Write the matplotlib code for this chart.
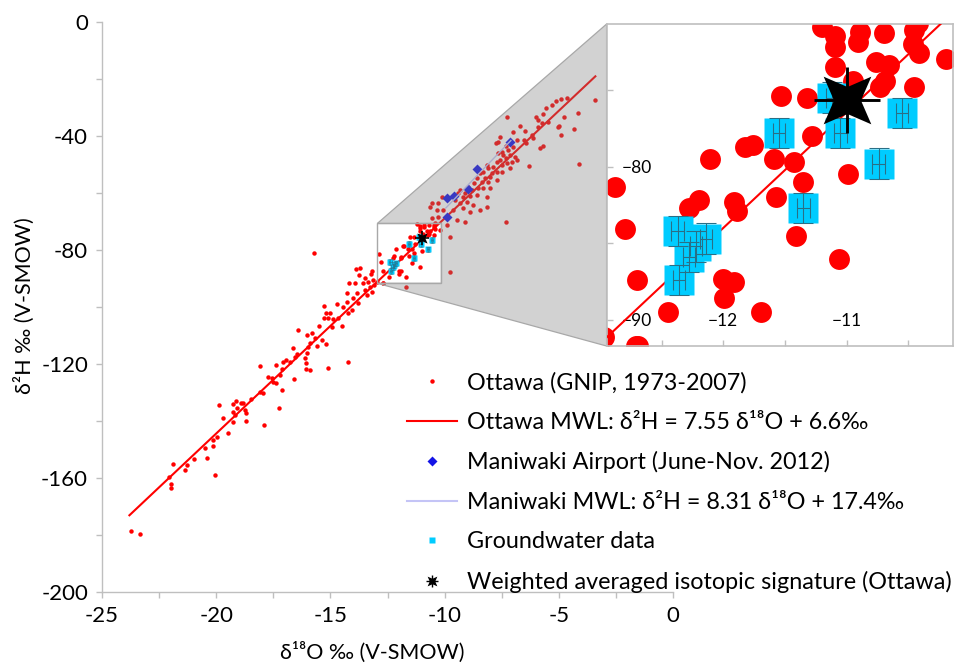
import matplotlib

matplotlib.use("Agg")
import matplotlib.pyplot as plt
import numpy as np
from matplotlib.legend_handler import HandlerTuple
from matplotlib.lines import Line2D
from matplotlib.patches import Polygon, Rectangle
from matplotlib.path import Path

plt.rcParams["font.family"] = ["Lato", "DejaVu Sans"]

# Ottawa GNIP monthly precipitation, 1973-2007 (d18O, d2H in permil V-SMOW)
OTTAWA = [
    (-23.74, -178.5), (-23.34, -179.8), (-21.97, -163.5), (-22.00, -162.2),
    (-22.05, -159.8), (-21.88, -155.0), (-21.37, -157.3), (-21.27, -155.6),
    (-20.96, -153.4), (-20.39, -152.9), (-20.04, -158.9),
    (-20.49, -149.6), (-20.15, -146.7), (-20.13, -148.7), (-19.95, -145.5),
    (-19.47, -144.3), (-19.72, -139.1), (-19.28, -140.2), (-19.86, -134.4),
    (-19.28, -134.0), (-19.13, -132.9), (-19.25, -136.7), (-19.10, -135.6),
    (-19.18, -137.9), (-18.93, -133.8), (-18.81, -133.6), (-18.74, -136.1),
    (-18.70, -137.3), (-18.71, -140.0), (-18.49, -132.4), (-18.08, -129.7),
    (-17.94, -130.3), (-17.91, -141.4), (-17.25, -135.3), (-17.13, -129.1),
    (-17.38, -126.8), (-17.57, -125.0), (-17.50, -126.2), (-17.72, -124.5),
    (-18.08, -120.7), (-17.38, -120.4), (-17.13, -121.8), (-17.21, -123.9),
    (-17.06, -119.2), (-16.94, -118.6), (-16.77, -119.2), (-16.59, -125.4),
    (-16.65, -114.5), (-16.55, -117.4), (-16.48, -116.5), (-16.40, -108.1),
    (-16.11, -118.0), (-16.07, -119.8), (-16.07, -121.9), (-15.89, -122.1),
    (-16.04, -116.3), (-15.97, -113.9), (-15.89, -112.7), (-15.82, -109.2),
    (-16.01, -109.8), (-15.67, -111.0), (-15.60, -113.7), (-15.38, -111.6),
    (-15.19, -113.0), (-15.09, -121.5), (-14.22, -119.4), (-15.48, -106.7),
    (-15.28, -99.6), (-15.19, -102.2), (-15.28, -104.0), (-15.09, -104.0),
    (-14.94, -106.9), (-14.87, -104.3), (-14.72, -98.9), (-14.51, -106.7),
    (-14.65, -104.0), (-15.02, -102.2), (-14.44, -99.9), (-14.29, -98.1),
    (-14.22, -102.2), (-14.07, -101.1), (-14.29, -95.2), (-14.17, -91.5),
    (-13.92, -91.7), (-13.85, -95.2), (-14.00, -97.0), (-13.78, -98.7),
    (-15.72, -81.2), (-13.88, -86.8), (-13.70, -86.4), (-13.19, -87.3),
    (-13.24, -88.4), (-13.73, -88.8), (-13.49, -89.9), (-13.56, -91.7),
    (-13.34, -91.1), (-13.15, -90.5), (-12.97, -91.1), (-13.09, -92.3),
    (-13.27, -93.1), (-13.49, -94.0), (-13.19, -94.6), (-13.41, -95.8),
    (-12.71, -91.7), (-11.69, -93.1), (-9.76, -87.6),
    (-7.28, -33.5), (-6.70, -36.5), (-6.48, -38.1), (-6.99, -38.5),
    (-7.58, -40.2), (-7.65, -42.0), (-7.75, -42.3), (-6.85, -41.4),
    (-6.52, -41.4), (-6.44, -42.6), (-7.31, -43.5), (-6.99, -43.7),
    (-7.21, -44.9), (-7.50, -45.5), (-7.65, -46.1), (-7.43, -46.7),
    (-7.14, -46.7), (-7.31, -47.8), (-6.92, -47.3), (-7.58, -48.4),
    (-7.72, -49.0), (-7.06, -49.0), (-6.85, -48.4), (-7.28, -49.6),
    (-7.50, -50.2), (-7.87, -50.8), (-8.09, -51.4), (-8.16, -50.2),
    (-8.30, -52.5), (-8.45, -53.1), (-7.94, -53.1), (-7.72, -52.5),
    (-7.50, -52.5), (-7.14, -51.4), (-8.01, -54.3), (-8.23, -54.9),
    (-8.38, -56.0), (-8.60, -54.9), (-8.09, -56.0), (-7.72, -55.4),
    (-8.71, -56.6), (-8.52, -58.4), (-8.81, -59.0), (-8.30, -58.4),
    (-8.01, -58.4), (-8.60, -60.7), (-8.89, -61.1), (-9.18, -61.5),
    (-9.03, -63.0), (-9.33, -63.6), (-9.18, -65.4), (-8.45, -66.0),
    (-8.74, -64.2), (-8.16, -61.3), (-9.40, -60.1), (-10.13, -61.3),
    (-10.27, -63.6), (-10.57, -63.6), (-10.64, -64.8), (-10.35, -66.0),
    (-10.06, -66.0), (-9.62, -66.0), (-10.27, -68.3), (-10.57, -68.9),
    (-10.42, -70.6), (-9.91, -71.2), (-9.47, -69.5), (-9.11, -70.1),
    (-9.76, -75.3), (-7.31, -70.1), (-8.89, -66.6), (-8.16, -64.8),
    (-9.11, -60.1), (-8.96, -57.8), (-9.33, -59.0), (-9.54, -62.5),
    (-5.12, -27.6), (-4.92, -27.1), (-4.63, -26.5), (-3.42, -27.4),
    (-5.31, -29.1), (-4.14, -31.8), (-5.56, -30.3), (-5.68, -32.3),
    (-6.00, -33.2), (-5.90, -34.4), (-5.75, -35.3), (-5.46, -35.0),
    (-5.90, -36.7), (-4.77, -33.2), (-4.98, -36.5), (-5.02, -37.0),
    (-4.92, -39.6), (-4.32, -37.7), (-5.82, -44.3), (-5.68, -43.5),
    (-6.29, -50.5), (-4.10, -49.9), (-6.19, -39.6), (-6.11, -40.8),
    (-11.20, -70.9), (-11.09, -71.5), (-11.09, -72.2), (-10.89, -71.2),
    (-10.91, -71.9), (-10.70, -71.3), (-10.45, -71.1), (-10.46, -72.0),
    (-10.41, -72.6), (-10.19, -73.0), (-11.09, -73.5), (-10.76, -73.2),
    (-10.66, -73.4), (-10.69, -74.4), (-10.73, -74.8), (-10.45, -74.8),
    (-10.95, -74.4), (-11.32, -75.5), (-11.53, -75.4), (-11.82, -78.7),
    (-11.76, -78.6), (-12.11, -79.5), (-11.59, -79.5), (-11.43, -79.7),
    (-11.28, -78.0), (-11.35, -81.0), (-11.57, -82.0), (-11.91, -82.3),
    (-11.89, -82.9), (-12.20, -82.2), (-12.28, -82.7), (-12.88, -81.3),
    (-12.80, -84.1), (-11.41, -84.5), (-11.06, -86.0), (-10.99, -80.5),
    (-12.70, -87.4), (-12.00, -87.3), (-11.91, -87.5), (-11.99, -88.6),
    (-12.45, -89.5), (-11.69, -89.5), (-12.69, -91.7),
]

# Maniwaki Airport precipitation, June-Nov. 2012
MANIWAKI_D18O = [-7.14, -8.59, -8.96, -9.59, -9.91, -9.91]
MANIWAKI_D2H = [-42.0, -51.7, -58.7, -61.1, -61.6, -68.3]

# groundwater samples with analytical uncertainty
GW_D18O = [-12.37, -12.14, -12.22, -12.28, -12.36, -11.55, -11.35, -11.05, -11.12, -10.74, -10.55]
GW_D2H = [-84.2, -84.7, -85.2, -85.9, -87.4, -77.8, -82.7, -77.8, -75.5, -79.8, -76.5]
GW_D18O_ERR = 0.05
GW_D2H_ERR = 1.0

# weighted mean of Ottawa precipitation
WEIGHTED_D18O = [-11.0]
WEIGHTED_D2H = [-75.65]

# meteoric water lines: slope, intercept, d18O range drawn
OTTAWA_MWL = (7.55, 6.6, (-23.8, -3.4))
MANIWAKI_MWL = (8.31, 17.4, (-9.95, -7.1))

ZOOM_X = (-12.946, -10.14)
ZOOM_Y = (-91.7, -70.7)

RED = "#FF0000"
BLUE = "#1414E6"
LAVENDER = "#C4C4F6"
CYAN = "#00CCFF"
ERR_COLOR = "#2A6F86"
AXIS_GRAY = "#BFBFBF"
FS_TICK = 16
FS_LABEL = 15.5
FS_LEGEND = 16.8
FS_INSET = 12.5


def star_marker(inner=0.4):
    verts = []
    for k in range(8):
        ang = np.deg2rad(45 + 45 * k)
        r = 1.0 if k % 2 == 0 else inner
        verts.append((r * np.cos(ang), r * np.sin(ang)))
    verts.append(verts[0])
    codes = [Path.MOVETO] + [Path.LINETO] * 7 + [Path.CLOSEPOLY]
    return Path(verts, codes)


STAR = star_marker()


def mwl(params):
    slope, icpt, (x0, x1) = params
    xs = np.array([x0, x1])
    return xs, slope * xs + icpt


def draw_series(ax, scale):
    ox = [p[0] for p in OTTAWA]
    oy = [p[1] for p in OTTAWA]
    ax.plot(ox, oy, "o", color=RED, mec="none", ms=3.2 * scale, zorder=2)
    xs, ys = mwl(OTTAWA_MWL)
    ax.plot(xs, ys, color=RED, lw=1.5, zorder=3)
    ax.plot(MANIWAKI_D18O, MANIWAKI_D2H, "D", color=BLUE, mec="none", ms=4.6 * scale, zorder=3)
    xs, ys = mwl(MANIWAKI_MWL)
    ax.plot(xs, ys, color=LAVENDER, lw=1.0, zorder=3)
    ax.plot(GW_D18O, GW_D2H, "s", color=CYAN, mec="none", ms=4.5 * scale, zorder=4)
    ax.errorbar(GW_D18O, GW_D2H, xerr=GW_D18O_ERR, yerr=GW_D2H_ERR, fmt="none",
                ecolor=ERR_COLOR, elinewidth=0.3 + 0.1 * scale, capsize=1.5 * scale,
                capthick=0.3 + 0.1 * scale, zorder=5)
    ax.plot(WEIGHTED_D18O, WEIGHTED_D2H, marker=STAR, ls="none", color="black",
            mec="none", ms=7.3 * scale, zorder=6)
    ax.plot(WEIGHTED_D18O, WEIGHTED_D2H, marker="+", ls="none", color="black",
            ms=10 * scale, mew=0.9 + 0.25 * scale, zorder=6)


def main():
    fig = plt.figure(figsize=(9.56, 6.68), dpi=100)
    ax = fig.add_axes([0.1067, 0.1138, 0.5973, 0.8533])
    ax.patch.set_facecolor("none")
    draw_series(ax, 1.0)
    ax.set_xlim(-25, 0)
    ax.set_ylim(-200, 0)
    ax.set_xticks(np.arange(-25, 0.1, 5))
    ax.set_xticks(np.arange(-25, 0.1, 2.5), minor=True)
    ax.set_yticks(np.arange(-200, 0.1, 40))
    ax.set_yticks(np.arange(-200, 0.1, 20), minor=True)
    ax.set_xticklabels([f"{v:g}" for v in np.arange(-25, 0.1, 5)])
    ax.set_yticklabels([f"{v:g}" for v in np.arange(-200, 0.1, 40)])
    for side in ("top", "right"):
        ax.spines[side].set_visible(False)
    for side in ("left", "bottom"):
        ax.spines[side].set_color(AXIS_GRAY)
        ax.spines[side].set_linewidth(1.0)
    ax.tick_params(which="both", direction="out", length=4, color=AXIS_GRAY, width=1.0)
    ax.tick_params(axis="both", labelsize=FS_TICK, pad=6)
    ax.set_xlabel("δ¹⁸O ‰ (V-SMOW)", fontsize=FS_LABEL)
    ax.set_ylabel("δ²H ‰ (V-SMOW)", fontsize=FS_LABEL)
    ax.xaxis.set_label_coords(0.473, -0.088)
    ax.yaxis.set_label_coords(-0.118, 0.502)

    # magnified view
    ax_in = fig.add_axes([0.6345, 0.482, 0.362, 0.482])
    draw_series(ax_in, 4.7)
    ax_in.set_xlim(*ZOOM_X)
    ax_in.set_ylim(*ZOOM_Y)
    ax_in.set_xticks([-12, -11])
    ax_in.set_xticks([-12.5, -11.5, -10.5], minor=True)
    ax_in.set_yticks([-90, -80])
    ax_in.set_yticks([-85, -75], minor=True)
    for sp in ax_in.spines.values():
        sp.set_color(AXIS_GRAY)
        sp.set_linewidth(1.2)
    ax_in.tick_params(which="both", direction="in", length=4.5, color=AXIS_GRAY, width=1.0)
    ax_in.tick_params(axis="y", labelsize=FS_INSET, pad=-33)
    ax_in.tick_params(axis="x", labelsize=FS_INSET, pad=-24)

    # shaded connector between the zoom box and the magnified view
    to_data = ax.transData.inverted()
    itl = to_data.transform(ax_in.transAxes.transform((0, 1)))
    ibl = to_data.transform(ax_in.transAxes.transform((0, 0)))
    x0, x1 = ZOOM_X
    y0, y1 = ZOOM_Y
    shade = Polygon([(x0, y1), tuple(itl), tuple(ibl), (x0, y0), (x1, y0), (x1, y1)],
                    closed=True, facecolor=(0.5, 0.5, 0.5, 0.35),
                    edgecolor="#A8A8A8", lw=0.9, zorder=7, clip_on=False)
    ax.add_patch(shade)
    ax.add_patch(Rectangle((x0, y0), x1 - x0, y1 - y0, fill=False,
                           edgecolor="#A8A8A8", lw=1.0, zorder=7))

    handles = [
        Line2D([], [], ls="none", marker="o", color=RED, mec="none", ms=3.2),
        Line2D([], [], color=RED, lw=1.5),
        Line2D([], [], ls="none", marker="D", color=BLUE, mec="none", ms=4.6),
        Line2D([], [], color=LAVENDER, lw=1.5),
        Line2D([], [], ls="none", marker="s", color=CYAN, mec="none", ms=4.5),
        (Line2D([], [], ls="none", marker=STAR, color="black", mec="none", ms=7),
         Line2D([], [], ls="none", marker="+", color="black", ms=9, mew=1.0)),
    ]
    labels = [
        "Ottawa (GNIP, 1973-2007)",
        "Ottawa MWL: δ²H = 7.55 δ¹⁸O + 6.6‰",
        "Maniwaki Airport (June-Nov. 2012)",
        "Maniwaki MWL: δ²H = 8.31 δ¹⁸O + 17.4‰",
        "Groundwater data",
        "Weighted averaged isotopic signature (Ottawa)",
    ]
    fig.legend(handles, labels, loc="upper left", bbox_to_anchor=(407 / 956, 1 - 372 / 668),
               bbox_transform=fig.transFigure, frameon=False, fontsize=FS_LEGEND,
               borderpad=0, borderaxespad=0, handlelength=2.15, handletextpad=0.42,
               labelspacing=0.79, handler_map={tuple: HandlerTuple(ndivide=1, pad=0)})

    fig.savefig("out.png", dpi=100)


if __name__ == "__main__":
    main()
